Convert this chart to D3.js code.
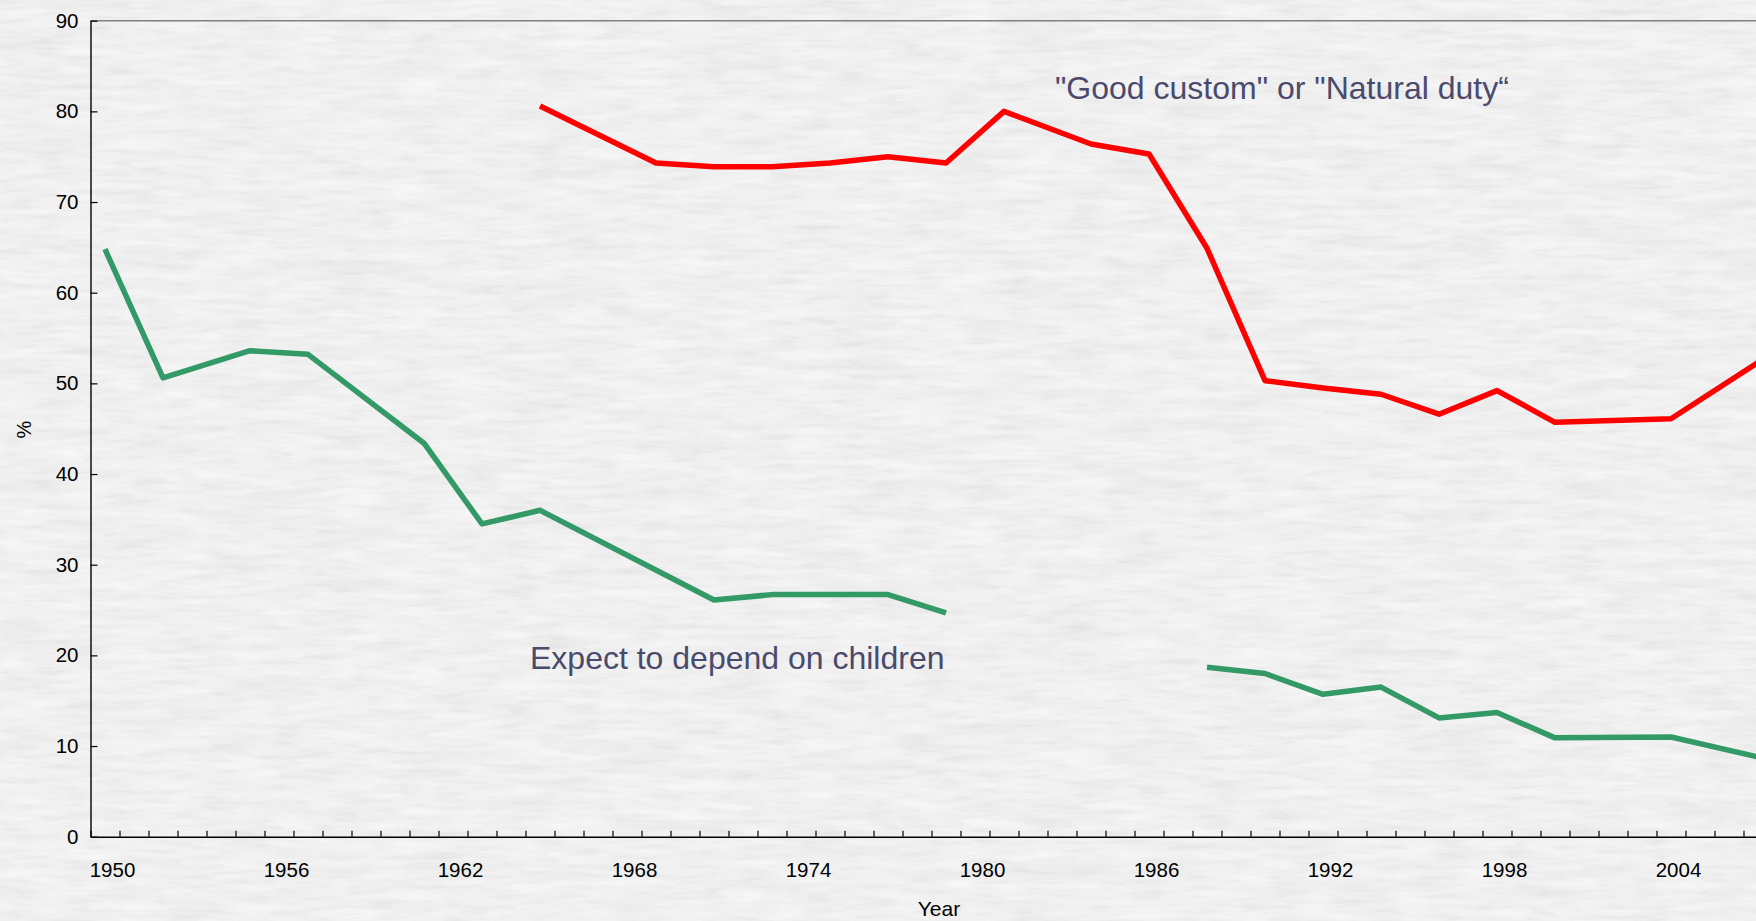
<!DOCTYPE html>
<html>
<head>
<meta charset="utf-8">
<script src="https://cdn.jsdelivr.net/npm/d3@7/dist/d3.min.js"></script>
<style>
  html, body { margin: 0; padding: 0; background: #f1f1f1; overflow: hidden; }
  svg { display: block; }
  text { font-family: "Liberation Sans", Arial, Helvetica, sans-serif; }
</style>
</head>
<body>
<svg id="chart" width="1756" height="921"></svg>
<script>
// Survey years and shares (%) for the two attitudes toward old-age support
const dutyYears   = [1965, 1969, 1971, 1973, 1975, 1977, 1979, 1981, 1984, 1986, 1988, 1990, 1992, 1994, 1996, 1998, 2000, 2004, 2007];
const dutyValues  = [80.6, 74.3, 73.9, 73.9, 74.3, 75.0, 74.3, 80.0, 76.4, 75.3, 64.9, 50.3, 49.5, 48.8, 46.6, 49.2, 45.7, 46.1, 52.3];

const dependYears  = [1950, 1952, 1955, 1957, 1961, 1963, 1965, 1971, 1973, 1975, 1977, 1979, 1981, 1984, 1986, 1988, 1990, 1992, 1994, 1996, 1998, 2000, 2004, 2007];
const dependValues = [64.8, 50.6, 53.6, 53.2, 43.4, 34.5, 36.0, 26.1, 26.7, 26.7, 26.7, 24.7, null, null, null, 18.7, 18.0, 15.7, 16.5, 13.1, 13.7, 10.9, 11.0, 8.8];

// Axis ticks
const yearTickLabels = [1950, 1956, 1962, 1968, 1974, 1980, 1986, 1992, 1998, 2004];
const valueTicks = [0, 10, 20, 30, 40, 50, 60, 70, 80, 90];
const firstYear = 1950, lastYear = 2010;

const W = 1756, H = 921;
const plot = { left: 90.5, top: 20.7, bottom: 836.7, slot: 29 };
plot.right = plot.left + plot.slot * (lastYear - firstYear + 1);

const svg = d3.select("#chart");

// Paper-like background texture: faint broad mottling plus fine horizontal fibres
const defs = svg.append("defs");
const paper = defs.append("filter").attr("id", "paper")
  .attr("x", 0).attr("y", 0).attr("width", W).attr("height", H)
  .attr("filterUnits", "userSpaceOnUse");
paper.append("feTurbulence").attr("type", "fractalNoise")
  .attr("baseFrequency", "0.01 0.05").attr("numOctaves", 3).attr("seed", 7);
paper.append("feColorMatrix").attr("type", "matrix")
  .attr("values", "0 0 0 0 0.4  0 0 0 0 0.4  0 0 0 0 0.4  0.2 0 0 0 -0.08");

const fibres = defs.append("filter").attr("id", "fibres")
  .attr("x", 0).attr("y", 0).attr("width", W).attr("height", H)
  .attr("filterUnits", "userSpaceOnUse");
fibres.append("feTurbulence").attr("type", "fractalNoise")
  .attr("baseFrequency", "0.03 0.2").attr("numOctaves", 3).attr("seed", 11);
fibres.append("feColorMatrix").attr("type", "matrix")
  .attr("values", "0 0 0 0 0.4  0 0 0 0 0.4  0 0 0 0 0.4  0.3 0 0 0 -0.135");

const gloss = defs.append("filter").attr("id", "gloss")
  .attr("x", 0).attr("y", 0).attr("width", W).attr("height", H)
  .attr("filterUnits", "userSpaceOnUse");
gloss.append("feTurbulence").attr("type", "fractalNoise")
  .attr("baseFrequency", "0.018 0.1").attr("numOctaves", 3).attr("seed", 23);
gloss.append("feColorMatrix").attr("type", "matrix")
  .attr("values", "0 0 0 0 1  0 0 0 0 1  0 0 0 0 1  1.0 0 0 0 -0.42");

svg.append("rect").attr("width", W).attr("height", H).attr("fill", "#f1f1f1");
svg.append("rect").attr("width", W).attr("height", H).attr("filter", "url(#paper)");
svg.append("rect").attr("width", W).attr("height", H).attr("filter", "url(#fibres)");
svg.append("rect").attr("width", W).attr("height", H).attr("filter", "url(#gloss)");

// Scales: one slot per calendar year, points at slot centres
const x = d3.scaleLinear()
  .domain([firstYear - 0.5, lastYear + 0.5])
  .range([plot.left, plot.right]);
const y = d3.scaleLinear().domain([0, 90]).range([plot.bottom, plot.top]);

// Top border of the plot area
svg.append("line")
  .attr("x1", plot.left).attr("x2", plot.right)
  .attr("y1", y(90)).attr("y2", y(90))
  .attr("stroke", "#808080").attr("stroke-width", 1.6);

// Y axis
const yAxis = svg.append("g")
  .attr("transform", `translate(${plot.left},0)`)
  .call(d3.axisLeft(y).tickValues(valueTicks).tickSizeInner(-7).tickSizeOuter(0).tickPadding(12));
yAxis.select(".domain").attr("stroke", "#000").attr("stroke-width", 1.4);
yAxis.selectAll(".tick line").attr("stroke", "#000").attr("stroke-width", 1.2);
yAxis.selectAll(".tick text")
  .attr("font-size", "20.5px").attr("fill", "#000")
  .attr("font-family", "'Liberation Sans', Arial, sans-serif");

// X axis: tick marks between years, labels every sixth year
const boundaries = d3.range(firstYear - 0.5, lastYear + 1, 1);
const xTicks = svg.append("g")
  .attr("transform", `translate(0,${plot.bottom})`)
  .call(d3.axisBottom(x).tickValues(boundaries).tickSizeInner(-6).tickSizeOuter(0).tickFormat(""));
xTicks.select(".domain").attr("stroke", "#000").attr("stroke-width", 1.4);
xTicks.selectAll(".tick line").attr("stroke", "#000").attr("stroke-width", 1.2);

const xLabels = svg.append("g")
  .attr("transform", `translate(0,${plot.bottom})`)
  .call(d3.axisBottom(x).tickValues(yearTickLabels).tickSize(0).tickFormat(d3.format("d")));
xLabels.select(".domain").remove();
xLabels.selectAll(".tick text")
  .attr("y", 40).attr("dy", 0).attr("dx", 7)
  .attr("font-size", "20.5px").attr("fill", "#000")
  .attr("font-family", "'Liberation Sans', Arial, sans-serif");

// Axis titles
svg.append("text")
  .attr("transform", `translate(23.5,${(plot.top + plot.bottom) / 2 + 1}) rotate(-90)`)
  .attr("text-anchor", "middle").attr("dominant-baseline", "central")
  .attr("font-size", "20px").attr("fill", "#000").text("%");
svg.append("text")
  .attr("x", 939).attr("y", 916)
  .attr("text-anchor", "middle")
  .attr("font-size", "21px").attr("fill", "#000").text("Year");

// Series lines
const line = d3.line()
  .defined(d => d.v != null)
  .x(d => x(d.year))
  .y(d => y(d.v));

const duty = dutyYears.map((year, i) => ({ year, v: dutyValues[i] }));
const depend = dependYears.map((year, i) => ({ year, v: dependValues[i] }));

svg.append("path").datum(depend)
  .attr("d", line)
  .attr("fill", "none").attr("stroke", "#339966")
  .attr("stroke-width", 5.5).attr("stroke-linejoin", "round");

svg.append("path").datum(duty)
  .attr("d", line)
  .attr("fill", "none").attr("stroke", "#ff0000")
  .attr("stroke-width", 5.5).attr("stroke-linejoin", "round");

// Series annotations
svg.append("text")
  .attr("x", 1055).attr("y", 98.5)
  .attr("font-size", "32px").attr("fill", "#4a4a6c")
  .text("\"Good custom\" or \"Natural duty\u201C");
svg.append("text")
  .attr("x", 530).attr("y", 668.5)
  .attr("font-size", "32px").attr("fill", "#4a4a6c")
  .text("Expect to depend on children");
</script>
</body>
</html>
